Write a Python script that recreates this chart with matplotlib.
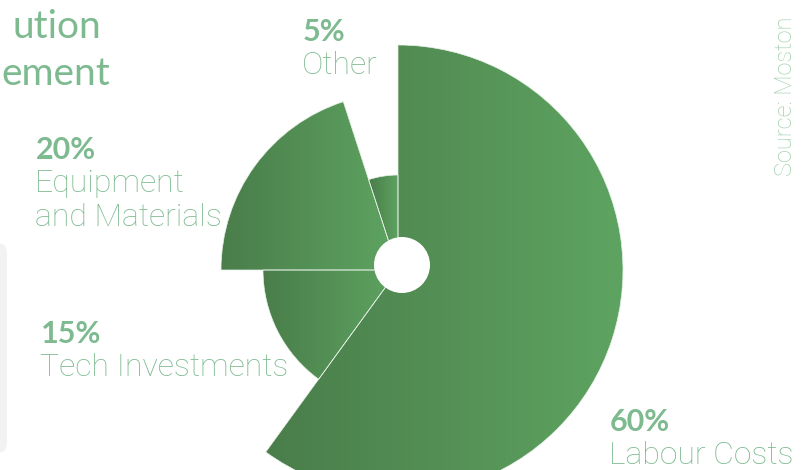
import numpy as np
import matplotlib.pyplot as plt
from matplotlib.patches import Wedge, Circle, FancyBboxPatch
from matplotlib.colors import LinearSegmentedColormap

# data (clockwise from 12 o'clock)
categories = ["Labour Costs", "Tech Investments", "Equipment\nand Materials", "Other"]
shares = [60, 15, 20, 5]
radius = [225, 135, 177, 95]

W, H = 810, 470
txt_green = "#7dba8f"
cmap = LinearSegmentedColormap.from_list("grn", ["#4a7d4a", "#5ea461"])

fig = plt.figure(figsize=(8.1, 4.7), dpi=100)
ax = fig.add_axes([0, 0, 1, 1])
ax.set_xlim(0, W)
ax.set_ylim(0, H)
ax.axis("off")

# grey panel cut off at the left edge
ax.add_patch(FancyBboxPatch((-30, H - 453), 37, 210, boxstyle="round,pad=0,rounding_size=10",
                            fc="#f2f2f2", ec="none"))

# rose wedges, each with its own left-to-right gradient
cx, cy = 398, H - 270
grad = np.linspace(0, 1, 256).reshape(1, -1)
start = 90.0
for share, r in zip(shares, radius):
    sweep = share / 100 * 360
    w = Wedge((cx, cy), r, start - sweep, start, fc="none", ec="#e8f2ea", lw=0.5)
    ax.add_patch(w)
    verts = w.get_path().vertices
    x0, x1 = verts[:, 0].min(), verts[:, 0].max()
    y0, y1 = verts[:, 1].min(), verts[:, 1].max()
    im = ax.imshow(grad, cmap=cmap, extent=[x0, x1, y0, y1], aspect="auto", zorder=1)
    im.set_clip_path(w)
    w.set_zorder(2)
    start -= sweep

ax.add_patch(Circle((402, H - 265), 28, fc="white", ec="none", zorder=3))
ax.set_xlim(0, W)
ax.set_ylim(0, H)

font = "Lato"
light = "Roboto"
# title (cut off on the left)
ax.text(101, H - 38, "ution", ha="right", va="baseline", fontsize=28, color=txt_green, family=font)
ax.text(110, H - 85, "ement", ha="right", va="baseline", fontsize=28, color=txt_green, family=font)

# labels: (percent, x, baseline of percent)
labels = [("60%", 610, 431), ("15%", 41, 343), ("20%", 36, 159), ("5%", 303, 41)]
for (pct, x, yb), name in zip(labels, categories):
    ax.text(x, H - yb, pct, ha="left", va="baseline", fontsize=22, fontweight="bold",
            color=txt_green, family=font)
    for i, line in enumerate(name.split("\n")):
        ax.text(x - 1, H - yb - 33.5 * (i + 1), line, ha="left", va="baseline", fontsize=23,
                fontweight="light", color=txt_green, family=light)

ax.text(785, H - 96, "Source: Moston", rotation=90, ha="center", va="center", fontsize=17,
        fontweight="light", color="#9fcfac", family=light)

fig.savefig("out.png", dpi=100)
